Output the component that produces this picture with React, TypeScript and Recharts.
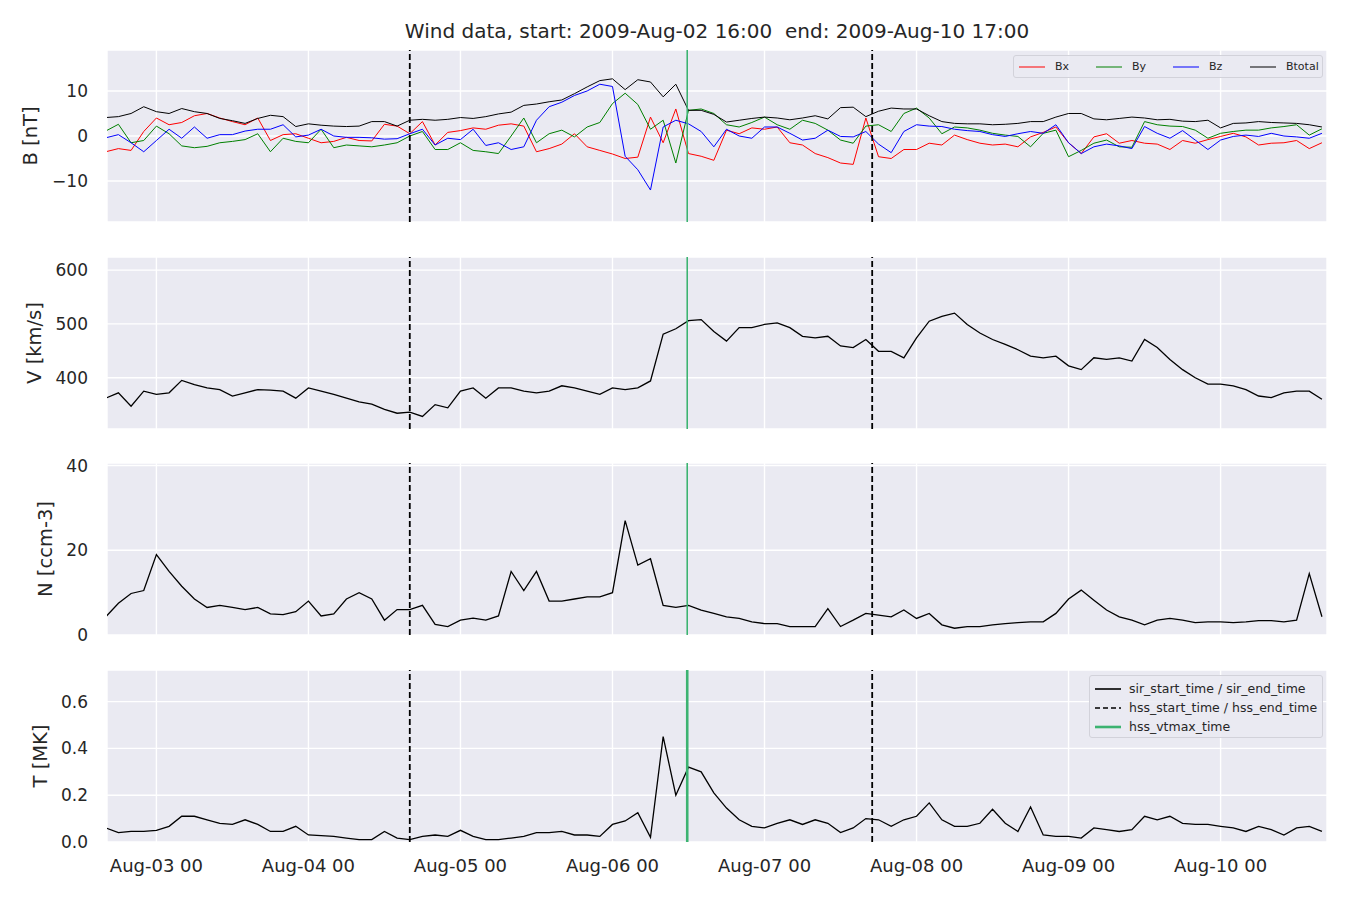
import { LineChart, Line, XAxis, YAxis, CartesianGrid, ReferenceLine } from 'recharts'

// hours since 2009-08-02 16:00, one sample every two hours
const STEP_HOURS = 2
const hours = Array.from({ length: 97 }, (_, i) => i * STEP_HOURS)

// magnetic field [nT]
const btotal = [
  4.1, 4.3, 5.0, 6.5, 5.4, 5.0, 6.1, 5.4, 5.0, 3.9, 3.4, 2.8,
  3.9, 4.6, 4.3, 2.1, 2.7, 2.4, 2.2, 2.1, 2.2, 3.2, 3.2, 2.2,
  3.5, 3.7, 3.5, 3.7, 4.1, 3.9, 4.3, 4.9, 5.3, 6.8, 7.1, 7.6,
  8.0, 9.4, 10.9, 12.3, 12.7, 10.3, 12.5, 12.0, 8.7, 11.5, 5.7, 5.7,
  4.8, 3.1, 3.5, 3.9, 4.2, 4.0, 3.6, 4.0, 4.5, 3.8, 6.3, 6.4,
  4.3, 5.5, 6.2, 6.0, 6.0, 4.5, 3.2, 2.8, 2.7, 2.7, 2.5, 2.6,
  2.8, 3.2, 3.2, 4.2, 5.0, 5.0, 3.8, 3.6, 3.9, 4.2, 4.0, 3.6,
  3.7, 3.3, 3.2, 3.5, 1.8, 2.8, 2.9, 3.2, 3.0, 2.9, 2.8, 2.5,
  2.0,
]
const bx = [
  -3.5, -2.8, -3.2, 1.0, 4.0, 2.5, 3.0, 4.5, 5.0, 4.0, 3.2, 2.5,
  4.0, -1.0, 0.3, 0.5, -0.5, -1.5, -1.2, -0.3, -1.0, -1.1, 2.6, 2.2,
  0.5, 3.2, -2.0, 0.8, 1.2, 1.8, 1.5, 2.4, 2.7, 2.2, -3.5, -2.8,
  -1.8, 0.5, -2.4, -3.2, -4.0, -5.0, -4.7, 4.2, -1.5, 6.0, -3.9, -4.5,
  -5.4, 1.3, 0.5, 1.8, 1.5, 2.0, -1.5, -2.0, -3.9, -4.8, -6.0, -6.3,
  4.0, -4.6, -5.0, -3.0, -3.0, -1.6, -2.0, 0.2, -0.8, -1.6, -2.0, -1.8,
  -2.4, -0.2, 0.8, 2.0, -1.5, -3.9, -0.2, 0.5, -1.6, -1.0, -1.6, -1.8,
  -3.0, -1.0, -1.6, -0.8, -0.1, 0.6, -0.2, -2.0, -1.6, -1.5, -1.0, -2.8,
  -1.5,
]
const by = [
  1.1, 2.6, -1.5, -1.0, 2.2, 0.5, -2.2, -2.6, -2.3, -1.5, -1.2, -0.8,
  0.5, -3.5, -0.5, -1.2, -1.5, 1.5, -2.6, -2.0, -2.2, -2.4, -2.0, -1.5,
  0.0, 1.0, -3.0, -3.0, -1.5, -3.2, -3.5, -3.9, 0.0, 4.0, -1.5, 0.5,
  1.3, -0.2, 2.0, 3.0, 7.2, 9.5, 7.0, 1.5, 3.5, -6.0, 5.7, 6.0,
  5.0, 2.5, 2.0, 3.0, 4.2, 2.5, 1.5, 3.5, 2.8, 1.3, -0.9, -1.6,
  2.2, 2.5, 1.0, 5.0, 6.2, 4.0, 0.5, 2.0, 1.8, 1.3, 0.6, 0.2,
  -0.1, -2.4, 0.6, 1.3, -4.6, -3.2, -1.6, -0.9, -2.4, -2.5, 3.2, 2.5,
  2.2, 2.1, 1.3, -0.5, 0.6, 1.0, 1.3, 1.3, 1.8, 2.1, 2.5, 0.2,
  1.6,
]
const bz = [
  -0.4, 0.3, -1.5, -3.5, -1.0, 1.5, -0.5, 2.0, -0.5, 0.3, 0.3, 1.1,
  1.5, 1.5, 2.5, -0.2, 0.2, 1.5, 0.0, -0.3, -0.3, -0.4, -0.7, -0.6,
  0.5, 1.5, -2.0, -0.5, -0.8, 1.5, -2.1, -1.5, -3.0, -2.4, 3.5, 6.5,
  7.5, 9.0, 10.0, 11.5, 11.0, -4.5, -7.5, -12.0, 2.0, 3.5, 2.7, 1.0,
  -2.4, 1.5, 0.0, -0.5, 2.0, 2.0, 0.6, -0.9, -0.5, 1.3, -0.1, -0.2,
  1.0, -1.8, -3.7, 1.0, 2.5, 2.2, 2.1, 1.5, 1.2, 1.0, 0.3, -0.1,
  0.5, 1.0, 0.6, 2.5, -1.5, -3.9, -2.4, -1.8, -2.2, -2.8, 2.1, 0.6,
  -0.5, 1.2, -0.9, -3.0, -0.9, -0.1, 0.2, -0.1, 0.6, 0.0, -0.2, -0.5,
  0.6,
]

// bulk speed [km/s]
const speed = [
  362, 372, 347, 375, 369, 372, 395, 387, 381, 378, 366, 372,
  378, 377, 375, 362, 381, 375, 369, 362, 355, 351, 341, 334,
  336, 328, 350, 344, 375, 381, 362, 381, 381, 375, 372, 375,
  385, 381, 375, 369, 381, 378, 381, 394, 481, 491, 506, 508,
  486, 468, 493, 493, 499, 502, 493, 477, 474, 477, 459, 456,
  471, 449, 449, 437, 474, 505, 514, 520, 499, 483, 471, 462,
  452, 440, 437, 440, 422, 415, 437, 434, 437, 431, 471, 456,
  434, 415, 400, 388, 388, 385, 378, 366, 363, 372, 375, 375,
  360,
]

// proton density [ccm-3]
const density = [
  4.3, 7.5, 9.8, 10.5, 19.0, 15.0, 11.5, 8.5, 6.5, 7.0, 6.5, 6.0,
  6.5, 5.0, 4.8, 5.5, 8.0, 4.5, 5.0, 8.5, 10.0, 8.5, 3.5, 6.0,
  6.0, 7.0, 2.5, 2.0, 3.5, 4.0, 3.5, 4.5, 15.0, 10.5, 15.0, 8.0,
  8.0, 8.5, 9.0, 9.0, 10.0, 27.0, 16.5, 18.0, 7.0, 6.5, 7.0, 5.9,
  5.1, 4.3, 3.9, 3.1, 2.7, 2.7, 2.0, 2.0, 2.0, 6.2, 2.0, 3.5,
  5.1, 4.7, 4.3, 5.9, 3.9, 5.1, 2.4, 1.6, 2.0, 2.0, 2.4, 2.7,
  2.9, 3.1, 3.1, 5.1, 8.5, 10.6, 8.2, 5.9, 4.3, 3.5, 2.4, 3.5,
  3.9, 3.5, 2.9, 3.1, 3.1, 2.9, 3.1, 3.4, 3.4, 3.1, 3.5, 14.5,
  4.3,
]

// proton temperature [MK]
const temperature = [
  0.06, 0.04, 0.045, 0.045, 0.05, 0.067, 0.11, 0.11, 0.095, 0.08, 0.075, 0.095,
  0.075, 0.045, 0.045, 0.067, 0.03, 0.027, 0.024, 0.017, 0.01, 0.01, 0.045, 0.017,
  0.01, 0.024, 0.03, 0.024, 0.05, 0.024, 0.01, 0.01, 0.017, 0.024, 0.04, 0.04,
  0.045, 0.03, 0.03, 0.024, 0.075, 0.09, 0.125, 0.02, 0.45, 0.2, 0.32, 0.3,
  0.21, 0.145, 0.095, 0.067, 0.06, 0.08, 0.095, 0.075, 0.095, 0.08, 0.04, 0.06,
  0.1, 0.095, 0.067, 0.095, 0.11, 0.167, 0.095, 0.067, 0.067, 0.08, 0.14, 0.08,
  0.045, 0.15, 0.03, 0.024, 0.024, 0.017, 0.06, 0.053, 0.045, 0.053, 0.11, 0.095,
  0.11, 0.08, 0.075, 0.075, 0.067, 0.06, 0.045, 0.067, 0.053, 0.03, 0.06, 0.067,
  0.045,
]

const dayTicks = [8, 32, 56, 80, 104, 128, 152, 176]
const dayLabels = ['Aug-03 00', 'Aug-04 00', 'Aug-05 00', 'Aug-06 00', 'Aug-07 00', 'Aug-08 00', 'Aug-09 00', 'Aug-10 00']

// event times, hours since start
const hssTimes = [48, 121]
const vtmaxTime = 91.8

const bTicks = [-10, 0, 10]
const vTicks = [400, 500, 600]
const nTicks = [0, 20, 40]
const tTicks = [0, 0.2, 0.4, 0.6]

const xDomain = [0.2, 192.8]
const PANEL_H = 172
const PAD = 14
const FONT = 'DejaVu Sans, sans-serif'
const yTickStyle = { fontSize: 17, fill: '#262626', fontFamily: FONT }
const xTickStyle = { fontSize: 18, fill: '#262626', fontFamily: FONT }
const GREEN = '#3CB371'

const bData = hours.map((t, i) => ({ t, bx: bx[i], by: by[i], bz: bz[i], btotal: btotal[i] }))
const vData = hours.map((t, i) => ({ t, v: speed[i] }))
const nData = hours.map((t, i) => ({ t, n: density[i] }))
const tData = hours.map((t, i) => ({ t, temp: temperature[i] }))

function Panel({ top, data, domain, ticks, label, labelX, bottom, fmt, greenWidth = 1.6, children }: any) {
  return (
    <div style={{ position: 'absolute', left: 0, top: top - PAD }}>
      <LineChart
        width={1350}
        height={PANEL_H + PAD + (bottom ? 40 : PAD)}
        data={data}
        margin={{ top: PAD, right: 23, bottom: bottom ? 0 : PAD, left: 47 }}
      >
        <CartesianGrid stroke="#ffffff" strokeWidth={1.4} fill="#EAEAF2" />
        <XAxis
          type="number"
          dataKey="t"
          domain={xDomain}
          ticks={dayTicks}
          interval={0}
          allowDataOverflow
          hide={!bottom}
          height={40}
          axisLine={false}
          tickLine={false}
          tickSize={0}
          tickMargin={17}
          tick={xTickStyle}
          tickFormatter={(v: number) => dayLabels[dayTicks.indexOf(v)]}
        />
        <YAxis
          type="number"
          domain={domain}
          ticks={ticks}
          interval={0}
          allowDataOverflow
          width={60}
          axisLine={false}
          tickLine={false}
          tickSize={0}
          tickMargin={19}
          tick={yTickStyle}
          tickFormatter={fmt}
        />
        {children}
        {hssTimes.map((t) => (
          <ReferenceLine key={t} x={t} stroke="#000" strokeWidth={1.8} strokeDasharray="6 3" />
        ))}
        <ReferenceLine x={vtmaxTime} stroke={GREEN} strokeWidth={greenWidth} />
      </LineChart>
      <div
        style={{
          position: 'absolute',
          left: labelX,
          top: PAD + PANEL_H / 2,
          transform: 'translate(-50%, -50%) rotate(-90deg)',
          whiteSpace: 'nowrap',
          fontSize: 19.5,
          fontFamily: FONT,
          color: '#262626',
        }}
      >
        {label}
      </div>
    </div>
  )
}

function series(key: string, color: string, width = 1) {
  return (
    <Line
      type="linear"
      dataKey={key}
      stroke={color}
      strokeWidth={width}
      dot={false}
      activeDot={false}
      isAnimationActive={false}
    />
  )
}

function Swatch({ color, dash, width = 1.5 }: { color: string; dash?: string; width?: number }) {
  return (
    <svg width={26} height={10} style={{ display: 'block' }}>
      <line x1={0} y1={5} x2={26} y2={5} stroke={color} strokeWidth={width} strokeDasharray={dash} />
    </svg>
  )
}

const bLegend = [
  { name: 'Bx', color: '#ff0000' },
  { name: 'By', color: '#008000' },
  { name: 'Bz', color: '#0000ff' },
  { name: 'Btotal', color: '#000000' },
]

const eventLegend = [
  { name: 'sir_start_time / sir_end_time', color: '#000', dash: undefined, width: 1.6 },
  { name: 'hss_start_time / hss_end_time', color: '#000', dash: '5 3', width: 1.6 },
  { name: 'hss_vtmax_time', color: GREEN, dash: undefined, width: 2.6 },
]

const legendBox = {
  position: 'absolute' as const,
  background: 'rgba(234,234,242,0.85)',
  border: '1px solid #d2d2da',
  borderRadius: 3,
  fontFamily: FONT,
  color: '#262626',
}

export default function App() {
  return (
    <div style={{ position: 'absolute', left: 0, top: 0, width: 1350, height: 900, background: '#fff' }}>
      <div
        style={{
          position: 'absolute',
          left: 107,
          top: 19,
          width: 1220,
          textAlign: 'center',
          fontSize: 20,
          lineHeight: '24px',
          fontFamily: FONT,
          color: '#262626',
          whiteSpace: 'pre',
        }}
      >
        {'Wind data, start: 2009-Aug-02 16:00  end: 2009-Aug-10 17:00'}
      </div>

      <Panel top={50} data={bData} domain={[-19.1, 19.1]} ticks={bTicks} label="B [nT]" labelX={30} fmt={(v: number) => (v < 0 ? '\u2212' + Math.abs(v) : String(v))}>
        {series('bx', '#ff0000')}
        {series('by', '#008000')}
        {series('bz', '#0000ff')}
        {series('btotal', '#000000')}
      </Panel>
      <Panel top={257} data={vData} domain={[304.7, 624.3]} ticks={vTicks} label="V [km/s]" labelX={34}>
        {series('v', '#000000', 1.3)}
      </Panel>
      <Panel top={463} data={nData} domain={[0, 40.6]} ticks={nTicks} label="N [ccm-3]" labelX={45}>
        {series('n', '#000000', 1.3)}
      </Panel>
      <Panel top={670} data={tData} domain={[0, 0.735]} ticks={tTicks} label="T [MK]" labelX={40} bottom greenWidth={2.6} fmt={(v: number) => v.toFixed(1)}>
        {series('temp', '#000000', 1.3)}
      </Panel>

      <div style={{ ...legendBox, left: 1013, top: 55, width: 308, height: 21, display: 'flex', alignItems: 'center', fontSize: 11 }}>
        {bLegend.map((item, i) => (
          <div key={item.name} style={{ display: 'flex', alignItems: 'center', marginLeft: i === 0 ? 5 : 0, width: i === 3 ? 'auto' : 77 }}>
            <Swatch color={item.color} width={1} />
            <span style={{ marginLeft: 10 }}>{item.name}</span>
          </div>
        ))}
      </div>

      <div style={{ ...legendBox, left: 1089, top: 675, width: 232, height: 61, fontSize: 12.5 }}>
        {eventLegend.map((item, i) => (
          <div key={item.name} style={{ position: 'absolute', left: 5, top: 3 + i * 19, height: 19, display: 'flex', alignItems: 'center' }}>
            <Swatch color={item.color} dash={item.dash} width={item.width} />
            <span style={{ marginLeft: 8, whiteSpace: 'nowrap' }}>{item.name}</span>
          </div>
        ))}
      </div>
    </div>
  )
}
